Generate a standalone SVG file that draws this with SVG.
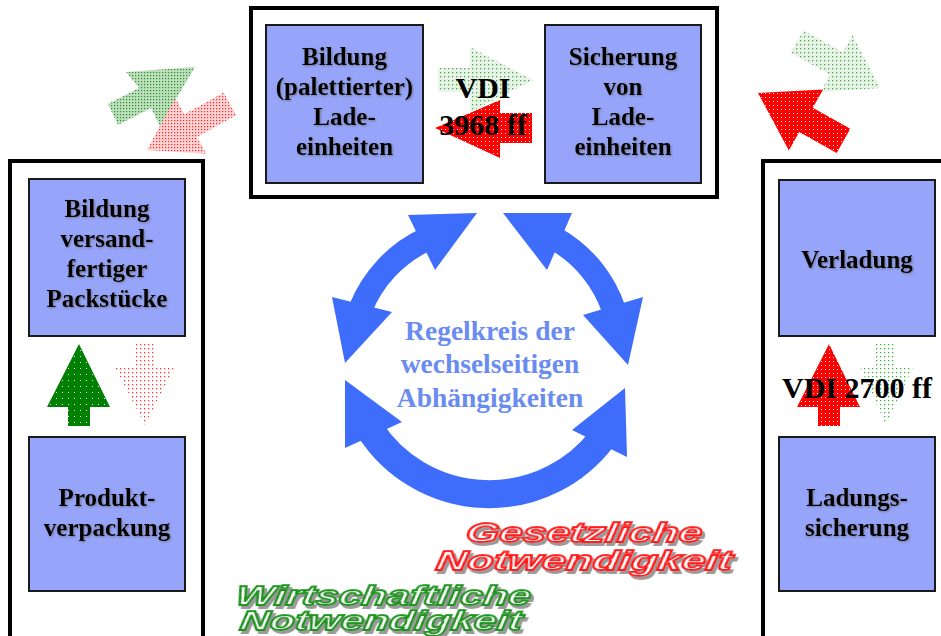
<svg xmlns="http://www.w3.org/2000/svg" width="941" height="636" viewBox="0 0 941 636">
<style>
.frame{fill:#fff;stroke:#000;stroke-width:4}
.box{fill:#96a5fa;stroke:#1a1a1a;stroke-width:2}
.lbl{font-family:"Liberation Serif","Times New Roman",serif;font-weight:bold;font-size:25px;fill:#000;text-anchor:middle;filter:url(#tsh)}
.vdi{font-family:"Liberation Serif","Times New Roman",serif;font-weight:bold;font-size:30px;fill:#000;text-anchor:middle}
.cyc{fill:none;stroke:#3d6dfa}
.head{fill:#3d6dfa}
.ctext{font-family:"Liberation Serif","Times New Roman",serif;font-weight:bold;font-size:27.5px;fill:#6a8cf0;text-anchor:middle}
.wa{font-family:"Liberation Sans",Arial,sans-serif;font-weight:bold;font-style:italic;font-size:27px;fill:#fff;stroke-width:1.8;filter:url(#wsh)}
</style>
<defs>
<filter id="tsh" x="-10%" y="-20%" width="120%" height="150%"><feDropShadow dx="1" dy="1" stdDeviation="0.8" flood-color="#555" flood-opacity="0.6"/></filter>
<filter id="wsh" x="-5%" y="-20%" width="115%" height="160%"><feDropShadow dx="3" dy="3" stdDeviation="0.7" flood-color="#9a9a9a" flood-opacity="1"/></filter>
<pattern id="pRed" width="4" height="4" patternUnits="userSpaceOnUse"><rect width="4" height="4" fill="#ff0000"/><rect x="1" y="1" width="1" height="1" fill="#fff"/></pattern>
<pattern id="pGreen" width="6" height="6" patternUnits="userSpaceOnUse"><rect width="6" height="6" fill="#008000"/><rect x="2" y="2" width="1" height="1" fill="#fff"/></pattern>
<pattern id="pGreenLight" width="3" height="3" patternUnits="userSpaceOnUse"><rect width="3" height="3" fill="#9fd49f" fill-opacity="0.7"/><rect width="1.2" height="1.2" fill="#2e8b2e"/></pattern>
<pattern id="pGreenFaint" width="4" height="4" patternUnits="userSpaceOnUse"><rect width="4" height="4" fill="#cfe9cf" fill-opacity="0.5"/><rect width="1.3" height="1.3" fill="#4aa84a"/></pattern>
<pattern id="pGreenSparse" width="4" height="4" patternUnits="userSpaceOnUse"><rect width="1.3" height="1.3" fill="#3cb43c"/></pattern>
<pattern id="pRedLight" width="3" height="3" patternUnits="userSpaceOnUse"><rect width="3" height="3" fill="#f9b9b9" fill-opacity="0.6"/><rect width="1.2" height="1.2" fill="#f22"/></pattern>
<pattern id="pRedSparse" width="4" height="4" patternUnits="userSpaceOnUse"><rect width="1.3" height="1.3" fill="#f33"/></pattern>
</defs>
<rect width="941" height="636" fill="#fff"/>

<g id="frames">
<rect id="frame-top" class="frame" x="251" y="8" width="466" height="189"/>
<rect id="frame-left" class="frame" x="10" y="161" width="193" height="490"/>
<rect id="frame-right" class="frame" x="763" y="161" width="200" height="490"/>
</g>

<g id="node-bildung-ladeeinheiten">
<rect class="box" x="266" y="25" width="157" height="158"/>
<text class="lbl" x="344.5" y="65">Bildung</text>
<text class="lbl" x="344.5" y="95">(palettierter)</text>
<text class="lbl" x="344.5" y="125">Lade-</text>
<text class="lbl" x="344.5" y="155">einheiten</text>
</g>
<g id="node-sicherung-ladeeinheiten">
<rect class="box" x="545" y="25" width="156" height="158"/>
<text class="lbl" x="623" y="65">Sicherung</text>
<text class="lbl" x="623" y="95">von</text>
<text class="lbl" x="623" y="125">Lade-</text>
<text class="lbl" x="623" y="155">einheiten</text>
</g>
<g id="node-bildung-packstuecke">
<rect class="box" x="29" y="179" width="156" height="157"/>
<text class="lbl" x="107" y="217">Bildung</text>
<text class="lbl" x="107" y="247">versand-</text>
<text class="lbl" x="107" y="277">fertiger</text>
<text class="lbl" x="107" y="307">Packstücke</text>
</g>
<g id="node-produktverpackung">
<rect class="box" x="29" y="437" width="156" height="154"/>
<text class="lbl" x="107" y="506">Produkt-</text>
<text class="lbl" x="107" y="536">verpackung</text>
</g>
<g id="node-verladung">
<rect class="box" x="779" y="180" width="156" height="156"/>
<text class="lbl" x="857" y="268">Verladung</text>
</g>
<g id="node-ladungssicherung">
<rect class="box" x="779" y="437" width="156" height="154"/>
<text class="lbl" x="857" y="506">Ladungs-</text>
<text class="lbl" x="857" y="536">sicherung</text>
</g>

<g id="connectors">
<!-- top center -->
<polygon fill="url(#pGreenFaint)" points="438,68 470,68 470,47 533,80 470,112 470,92 438,92"/>
<polygon fill="url(#pRed)" points="435,128 500,100 500,113 532,113 532,143 500,143 500,158"/>
<!-- top left -->
<polygon fill="url(#pGreenLight)" points="195,67 126,72 139,88 108,104 118,125 151,108 160,126"/>
<polygon fill="url(#pRedLight)" points="147,150 175.1,97.7 184.4,114.3 223.7,92.4 236.3,115.2 197,137.1 206.3,153.7"/>
<!-- top right -->
<polygon fill="url(#pGreenFaint)" points="880,88 852.5,34.7 842.8,52.2 803.6,30.2 790.8,52.8 830,74.8 820.3,92.3"/>
<polygon fill="url(#pRed)" points="758,93 823.1,89.4 812.8,107.7 850.3,128.7 836.7,153.1 799.2,132.1 788.9,150.4"/>
<!-- left middle -->
<polygon fill="url(#pGreen)" points="79,344 110,407 90,407 90,426 68,426 68,407 47,407"/>
<polygon fill="url(#pRedSparse)" points="135,343 155,343 155,367 175,367 145,425 115,367 135,367"/>
<!-- right middle -->
<polygon fill="url(#pRed)" points="829,344 860,407 840,407 840,426 818,426 818,407 797,407"/>
<polygon fill="url(#pGreenSparse)" points="876,343 896,343 896,367 913,367 886,425 860,367 876,367"/>
<!-- cycle -->
<path class="cyc" stroke-width="24" d="M 360.6 308.8 A 130 130 0 0 1 425.4 239.7"/>
<path class="cyc" stroke-width="24" d="M 555.5 238.8 A 130 130 0 0 1 614.2 310.8"/>
<path class="cyc" stroke-width="28" d="M 602 438.4 A 142 142 0 0 1 370.7 430.5"/>
<polygon class="head" points="345,363 332,297 392,312"/>
<polygon class="head" points="477,213 408,215 435,270"/>
<polygon class="head" points="503,213 572,213 547,270"/>
<polygon class="head" points="628,365 643,297 583,315"/>
<polygon class="head" points="345,380 345,448 402,422"/>
<polygon class="head" points="625,388 627,457 572,430"/>
</g>

<g id="labels">
<text class="vdi" x="483" y="98">VDI</text>
<text class="vdi" x="483" y="135">3968 ff</text>
<text class="vdi" x="857" y="398">VDI 2700 ff</text>
<text class="ctext" x="490" y="340">Regelkreis der</text>
<text class="ctext" x="490" y="373">wechselseitigen</text>
<text class="ctext" x="490" y="407">Abhängigkeiten</text>
<text class="wa" stroke="#ff1a1a" transform="translate(465,542) skewX(-8)" x="0" y="0" textLength="236" lengthAdjust="spacingAndGlyphs">Gesetzliche</text>
<text class="wa" stroke="#ff1a1a" transform="translate(435,570) skewX(-8)" x="0" y="0" textLength="296" lengthAdjust="spacingAndGlyphs">Notwendigkeit</text>
<text class="wa" stroke="#1e961e" transform="translate(235,605) skewX(-8)" x="0" y="0" textLength="295" lengthAdjust="spacingAndGlyphs">Wirtschaftliche</text>
<text class="wa" stroke="#1e961e" transform="translate(239,630) skewX(-8)" x="0" y="0" textLength="282" lengthAdjust="spacingAndGlyphs">Notwendigkeit</text>
</g>
</svg>
